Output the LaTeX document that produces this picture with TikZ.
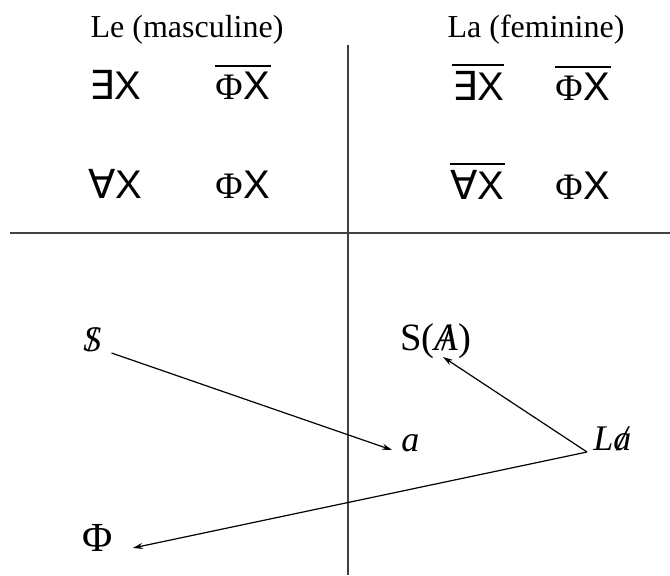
\documentclass[tikz,border=0pt]{standalone}
\usepackage{fontspec}
\setmainfont{Liberation Serif}
\newfontfamily\sansf{Liberation Sans}
\newfontfamily\symf{DejaVu Sans}
\usetikzlibrary{arrows.meta}
\newcommand\mySlash[1]{\ooalign{#1\cr\hidewidth/\hidewidth}}
\newcommand\EX{{\symf ∃}{\sansf X}}
\newcommand\AX{{\symf ∀}{\sansf X}}
\newcommand\PX{{\fontsize{28}{30}\selectfont Φ}\kern1pt{\sansf X}}
\begin{document}
\begin{tikzpicture}[x=0.75pt,y=-0.75pt,
  title/.style={inner sep=0, anchor=base, font=\fontsize{24}{28}\selectfont},
  formula/.style={inner sep=0, anchor=base west, font=\fontsize{30}{34}\selectfont},
  lbl/.style={inner sep=0, anchor=base west, font=\fontsize{27}{30}\selectfont},
  rulel/.style={line width=1.1pt, draw=black!75},
  conn/.style={line width=0.9pt, -{Stealth[length=7.5pt,width=4.5pt]}},
  barl/.style={line width=1.4pt}]
\useasboundingbox (0,0) rectangle (670,575);
% titles
\node[title] (t1) at (187,37) {Le (masculine)};
\node[title] (t2) at (536,37) {La (feminine)};
% axes
\coordinate (vtop) at (348,45);
\coordinate (vbot) at (348,575);
\coordinate (hl) at (10,233);
\coordinate (hr) at (670,233);
\draw[rulel] (vtop) -- (vbot);
\draw[rulel] (hl) -- (hr);
% formulas
\node[formula] (f1) at (89,99) {\EX};
\node[formula] (f2) at (215,99) {\PX};
\node[formula] (f3) at (452,100) {\EX};
\node[formula] (f4) at (555,100) {\PX};
\node[formula] (f5) at (88,198) {\AX};
\node[formula] (f6) at (215,198) {\PX};
\node[formula] (f7) at (450,199) {\AX};
\node[formula] (f8) at (555,199) {\PX};
\foreach \n in {f2,f3,f4,f7}
  \draw[barl] ([yshift=4pt]\n.north west) -- ([yshift=4pt]\n.north east);
% lower part
\node[lbl] (S) at (83,351) {\mySlash{\itshape S}};
\node[lbl] (a) at (401,451) {\itshape a};
\node[lbl, font=\fontsize{29}{32}\selectfont] (SA) at (400,350) {S(\mySlash{\itshape A})};
\node[lbl] (La) at (593,450) {\itshape L\mySlash{a}};
\node[lbl, font=\fontsize{31}{34}\selectfont] (Phi) at (82,551) {Φ};
\coordinate (v) at ([shift={(-6,2)}]La.base west);
\draw[conn] ([shift={(10,2)}]S.base east) -- ([shift={(-9,-1)}]a.base west);
\draw[conn] (v) -- ([shift={(43,7)}]SA.base west);
\draw[conn] (v) -- ([shift={(20,-3)}]Phi.base east);
\end{tikzpicture}
\end{document}
